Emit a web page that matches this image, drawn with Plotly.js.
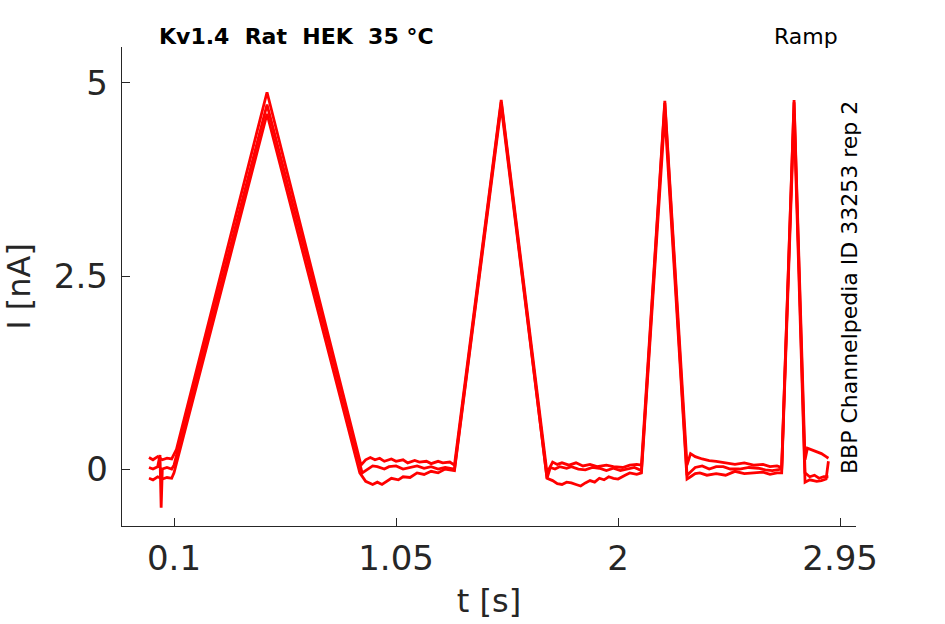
<!DOCTYPE html>
<html>
<head>
<meta charset="utf-8">
<script src="https://cdn.plot.ly/plotly-3.0.1.min.js"></script>
<style>body{margin:0;background:#fff;}</style>
</head>
<body>
<div id="chart" style="width:945px;height:624px;"></div>
<script>
// repetition traces (t in s, I in nA)
var tA = [-0.007, 0.01, 0.03, 0.05, 0.07, 0.09, 0.11, 0.498, 0.90, 0.92, 0.94, 0.96, 0.98, 1.0, 1.03, 1.05, 1.08, 1.1, 1.13, 1.15, 1.18, 1.2, 1.23, 1.25, 1.28, 1.30, 1.50, 1.696, 1.72, 1.74, 1.76, 1.79, 1.82, 1.85, 1.88, 1.91, 1.95, 1.98, 2.02, 2.05, 2.08, 2.10, 2.20, 2.295, 2.31, 2.33, 2.36, 2.39, 2.42, 2.46, 2.5, 2.54, 2.58, 2.62, 2.65, 2.68, 2.70, 2.753, 2.80, 2.81, 2.83, 2.85, 2.87, 2.89, 2.90];
var iA = [0.15, 0.12, 0.16, 0.12, 0.14, 0.13, 0.25, 4.88, 0.05, 0.12, 0.15, 0.12, 0.14, 0.1, 0.13, 0.1, 0.12, 0.08, 0.11, 0.09, 0.1, 0.07, 0.1, 0.08, 0.09, 0.05, 4.78, -0.05, 0.09, 0.06, 0.08, 0.05, 0.08, 0.04, 0.06, 0.03, 0.05, 0.03, 0.02, 0.05, 0.06, 0.05, 4.77, 0.05, 0.2, 0.16, 0.13, 0.11, 0.1, 0.08, 0.06, 0.08, 0.05, 0.06, 0.03, 0.04, 0.02, 4.78, 0.12, 0.27, 0.25, 0.22, 0.2, 0.16, 0.14];

var tB = [-0.007, 0.01, 0.03, 0.04, 0.045, 0.05, 0.07, 0.09, 0.10, 0.498, 0.905, 0.93, 0.95, 0.97, 1.0, 1.02, 1.05, 1.08, 1.11, 1.14, 1.17, 1.2, 1.23, 1.26, 1.30, 1.50, 1.696, 1.71, 1.73, 1.75, 1.78, 1.8, 1.83, 1.86, 1.89, 1.92, 1.95, 1.98, 2.01, 2.04, 2.07, 2.10, 2.20, 2.295, 2.33, 2.36, 2.39, 2.42, 2.45, 2.48, 2.52, 2.56, 2.6, 2.63, 2.66, 2.70, 2.753, 2.80, 2.82, 2.84, 2.86, 2.88, 2.90];
var iB = [0.02, 0.0, 0.03, 0.18, -0.5, 0.0, 0.02, 0.0, 0.05, 4.72, -0.05, 0.0, 0.04, 0.03, 0.0, 0.03, 0.04, 0.0, 0.02, 0.04, 0.01, 0.03, 0.0, 0.02, 0.0, 4.75, -0.12, 0.02, 0.0, 0.03, 0.01, 0.03, 0.0, -0.01, 0.02, 0.01, -0.02, 0.01, -0.02, 0.0, 0.02, -0.02, 4.74, -0.08, 0.02, 0.04, 0.0, 0.03, 0.03, 0.0, 0.0, 0.02, 0.01, -0.01, -0.02, 0.0, 4.75, -0.05, -0.1, -0.08, -0.12, -0.1, -0.1];

var tC = [-0.007, 0.01, 0.03, 0.05, 0.07, 0.09, 0.10, 0.498, 0.895, 0.92, 0.95, 0.97, 0.99, 1.01, 1.03, 1.06, 1.08, 1.11, 1.14, 1.17, 1.2, 1.23, 1.26, 1.30, 1.50, 1.696, 1.72, 1.74, 1.76, 1.78, 1.8, 1.82, 1.84, 1.86, 1.88, 1.90, 1.92, 1.94, 1.96, 1.98, 2.0, 2.03, 2.05, 2.08, 2.10, 2.20, 2.295, 2.31, 2.33, 2.35, 2.38, 2.42, 2.46, 2.5, 2.54, 2.58, 2.62, 2.65, 2.68, 2.70, 2.753, 2.80, 2.82, 2.85, 2.87, 2.89, 2.90];
var iC = [-0.12, -0.14, -0.1, -0.13, -0.11, -0.12, -0.05, 4.6, -0.05, -0.16, -0.2, -0.17, -0.2, -0.16, -0.12, -0.14, -0.1, -0.11, -0.05, -0.07, -0.03, -0.05, 0.0, -0.02, 4.7, -0.12, -0.15, -0.19, -0.2, -0.17, -0.18, -0.2, -0.22, -0.18, -0.15, -0.17, -0.12, -0.14, -0.1, -0.12, -0.13, -0.08, -0.05, -0.07, -0.05, 4.6, -0.13, -0.1, -0.06, -0.05, -0.08, -0.06, -0.08, -0.03, -0.06, -0.05, -0.04, -0.07, -0.05, -0.05, 4.6, -0.17, -0.14, -0.16, -0.15, -0.13, 0.1];

var xTicks = [0.1, 1.05, 2, 2.95];
var xTickText = ['0.1', '1.05', '2', '2.95'];
var yTicks = [0, 2.5, 5];
var yTickText = ['0', '2.5', '5'];

function rep(t, i) {
  return {x: t, y: i, type: 'scatter', mode: 'lines',
          line: {color: '#ff0000', width: 2.8}, hoverinfo: 'skip'};
}

var data = [rep(tC, iC), rep(tB, iB), rep(tA, iA)];

var axisStyle = {
  showgrid: false, zeroline: false, showline: true,
  linecolor: '#262626', linewidth: 1.3,
  ticks: 'inside', ticklen: 8, tickcolor: '#262626',
  tickfont: {family: 'DejaVu Sans', size: 34, color: '#262626'}
};

var layout = {
  width: 945, height: 624,
  margin: {l: 122, r: 89, t: 47, b: 98},
  paper_bgcolor: 'white', plot_bgcolor: 'white',
  showlegend: false,
  xaxis: Object.assign({}, axisStyle, {
    range: [-0.1225, 3.018],
    tickvals: xTicks, ticktext: xTickText,
    ticklabelstandoff: 2,
    title: {text: 't [s]', font: {family: 'DejaVu Sans', size: 32, color: '#262626'}, standoff: 12}
  }),
  yaxis: Object.assign({}, axisStyle, {
    range: [-0.738, 5.466],
    tickvals: yTicks, ticktext: yTickText,
    ticklabelstandoff: 6,
    title: {text: 'I [nA]', font: {family: 'DejaVu Sans', size: 32, color: '#262626'}, standoff: 16}
  }),
  annotations: [
    {text: '<b>Kv1.4  Rat  HEK  35 °C</b>', xref: 'paper', yref: 'paper',
     x: (157 - 122) / 734, y: 1, yshift: -4, xanchor: 'left', yanchor: 'bottom',
     showarrow: false, font: {family: 'DejaVu Sans', size: 22, color: '#000'}},
    {text: 'Ramp', xref: 'paper', yref: 'paper',
     x: (840 - 122) / 734, y: 1, yshift: -4, xanchor: 'right', yanchor: 'bottom',
     showarrow: false, font: {family: 'DejaVu Sans', size: 22, color: '#000'}},
    {text: 'BBP Channelpedia ID 33253 rep 2', xref: 'paper', yref: 'paper',
     x: (849 - 122) / 734, y: (526 - 288) / 479, xanchor: 'center', yanchor: 'middle',
     textangle: -90, showarrow: false,
     font: {family: 'DejaVu Sans', size: 22, color: '#000'}}
  ]
};

Plotly.newPlot('chart', data, layout, {displayModeBar: false, staticPlot: true});
</script>
</body>
</html>
